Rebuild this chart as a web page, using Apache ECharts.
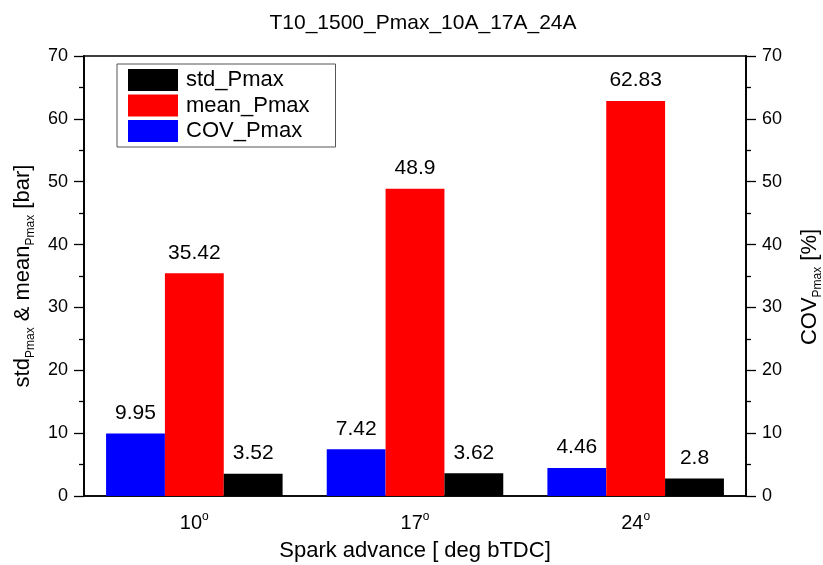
<!DOCTYPE html>
<html>
<head>
<meta charset="utf-8">
<script src="https://cdn.jsdelivr.net/npm/echarts@6/dist/echarts.min.js"></script>
<style>
  html, body { margin: 0; padding: 0; background: #fff; }
  #chart { width: 823px; height: 565px; }
</style>
</head>
<body>
<div id="chart"></div>
<script>
// Spark advance settings (deg bTDC)
const categories = ['10', '17', '24'];
// Peak pressure statistics per spark advance
const covPmax = [9.95, 7.42, 4.46];    // %
const meanPmax = [35.42, 48.9, 62.83]; // bar
const stdPmax = [3.52, 3.62, 2.8];     // bar
const yTicks = [0, 10, 20, 30, 40, 50, 60, 70];

const FONT = '"Liberation Sans", Arial, sans-serif';
const chart = echarts.init(document.getElementById('chart'));

const valueAxisBase = {
  type: 'value',
  min: yTicks[0],
  max: yTicks[yTicks.length - 1],
  interval: yTicks[1] - yTicks[0],
  splitLine: { show: false },
  axisLine: { show: true, lineStyle: { color: '#000', width: 1.8 } },
  axisTick: { show: true, inside: false, length: 10, lineStyle: { color: '#000', width: 1.3 } },
  minorTick: { show: true, splitNumber: 2, length: 5, lineStyle: { color: '#000', width: 1.3 } },
  axisLabel: { color: '#000', fontSize: 18, fontFamily: FONT, margin: 16 },
  nameLocation: 'middle',
  nameRotate: 90
};

// subscript styling shared by both value-axis titles
const nameRich = {
  m: { color: '#000', fontSize: 22, fontFamily: FONT },
  s: { color: '#000', fontSize: 12, fontFamily: FONT, padding: [16, 0, 0, 0] }
};

const labelStyle = {
  show: true,
  position: 'top',
  distance: 10,
  color: '#000',
  fontSize: 21,
  fontFamily: FONT
};

chart.setOption({
  animation: false,
  title: {
    text: 'T10_1500_Pmax_10A_17A_24A',
    left: 418,
    textAlign: 'center',
    top: 8,
    textStyle: { color: '#000', fontSize: 21, fontWeight: 'normal', fontFamily: FONT }
  },
  grid: {
    left: 84, right: 77, top: 56, bottom: 69,
    outerBoundsMode: 'none',
    containLabel: false,
    show: true, borderColor: '#000', borderWidth: 1.5, backgroundColor: 'transparent'
  },
  legend: {
    data: ['std_Pmax', 'mean_Pmax', 'COV_Pmax'],
    orient: 'vertical',
    left: 117, top: 64,
    icon: 'rect',
    itemWidth: 50, itemHeight: 22,
    itemGap: 3.5,
    itemStyle: { borderWidth: 0 },
    padding: [5, 26, 5, 11],
    borderColor: '#555', borderWidth: 1,
    textStyle: { color: '#000', fontSize: 22, fontFamily: FONT, padding: [0, 0, 0, 3] }
  },
  xAxis: {
    type: 'category',
    data: categories,
    axisLine: { show: true, lineStyle: { color: '#000', width: 1.5 } },
    axisTick: { show: false },
    axisLabel: {
      margin: 15,
      formatter: v => '{n|' + v + '}{d|o}',
      rich: {
        n: { color: '#000', fontSize: 20, fontFamily: FONT },
        d: { color: '#000', fontSize: 12, fontFamily: FONT, verticalAlign: 'top', padding: [0, 0, 12, 0] }
      }
    },
    name: 'Spark advance [ deg bTDC]',
    nameLocation: 'middle',
    nameGap: 44,
    nameTextStyle: { color: '#000', fontSize: 22, fontFamily: FONT }
  },
  yAxis: [
    Object.assign({}, valueAxisBase, {
      position: 'left',
      name: '{m|std}{s|Pmax}{m| & mean}{s|Pmax}{m| [bar]}',
      nameGap: 40,
      nameTextStyle: { rich: nameRich }
    }),
    Object.assign({}, valueAxisBase, {
      position: 'right',
      name: '{m|COV}{s|Pmax}{m| [%]}',
      nameGap: 50,
      nameTextStyle: { rich: nameRich, padding: [0, 22, 0, 0] }
    })
  ],
  series: [
    {
      name: 'COV_Pmax', type: 'bar', yAxisIndex: 1, data: covPmax,
      barGap: '0%', barCategoryGap: '20%',
      itemStyle: { color: '#0000ff' }, label: labelStyle
    },
    {
      name: 'mean_Pmax', type: 'bar', yAxisIndex: 0, data: meanPmax,
      barGap: '0%', barCategoryGap: '20%',
      itemStyle: { color: '#ff0000' }, label: labelStyle
    },
    {
      name: 'std_Pmax', type: 'bar', yAxisIndex: 0, data: stdPmax,
      barGap: '0%', barCategoryGap: '20%',
      itemStyle: { color: '#000000' }, label: labelStyle
    }
  ]
});
</script>
</body>
</html>
